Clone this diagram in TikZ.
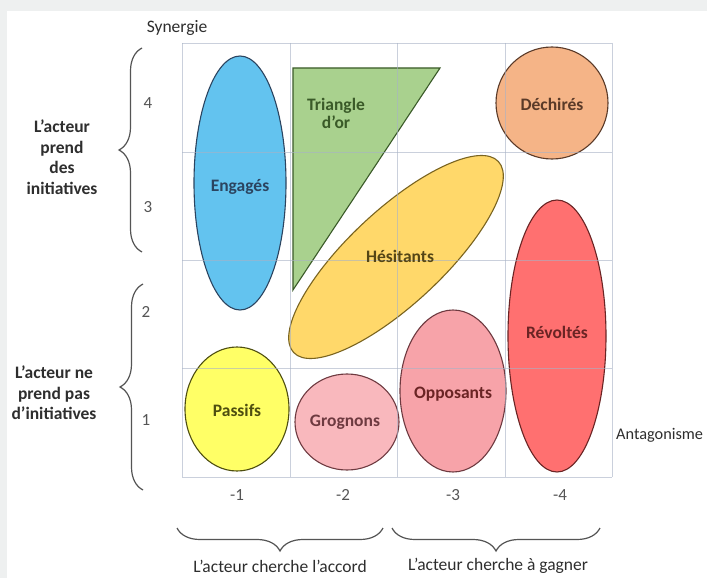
\documentclass[tikz,border=0pt]{standalone}
\usepackage{fontspec}
\setmainfont{Carlito}
\usetikzlibrary{decorations.pathreplacing}
\definecolor{bgc}{HTML}{EEF0F0}
\definecolor{gridc}{HTML}{A8B2C6}
\definecolor{bluef}{HTML}{63C3EF}
\definecolor{blued}{HTML}{2B4460}
\definecolor{greenf}{HTML}{A9D18E}
\definecolor{greend}{HTML}{3A5A28}
\definecolor{orangef}{HTML}{F5B487}
\definecolor{oranged}{HTML}{5A3A28}
\definecolor{yellowf}{HTML}{FFD86A}
\definecolor{yellowd}{HTML}{7A6420}
\definecolor{redf}{HTML}{FF7070}
\definecolor{redd}{HTML}{6A2424}
\definecolor{pinkf}{HTML}{F7A3A9}
\definecolor{pinklf}{HTML}{F9B8BD}
\definecolor{pinkd}{HTML}{6E3A40}
\definecolor{lemonf}{HTML}{FFFF66}
\definecolor{lemond}{HTML}{4E4E10}
\definecolor{txt}{HTML}{2E2E2E}
\definecolor{tick}{HTML}{555555}
\begin{document}
\begin{tikzpicture}[x=1pt,y=-1pt,
  shp/.style={line width=1.1pt},
  lbl/.style={font=\fontsize{17.5}{18}\selectfont\bfseries, align=center, inner sep=0pt},
  side/.style={font=\fontsize{17.5}{20.5}\selectfont\bfseries, text=txt, align=center, inner sep=0pt},
  ticklbl/.style={font=\fontsize{17}{18}\selectfont, text=tick, inner sep=0pt},
  axlbl/.style={font=\fontsize{17.5}{20}\selectfont, text=txt, inner sep=0pt},
  brc/.style={draw=tick, line width=1.2pt, decorate, decoration={brace, amplitude=23pt}},
  gridl/.style={draw=gridc, line width=0.9pt}]
\useasboundingbox (0,0) rectangle (707,578);
\fill[bgc] (0,0) rectangle (707,578);
\fill[white] (7,11) rectangle (707,578);
% shapes
\draw[shp, fill=bluef, draw=blued] (240,183) ellipse [x radius=46pt, y radius=127pt];
\draw[shp, fill=greenf, draw=greend] (293,68) -- (440,68) -- (293,290) -- cycle;
\draw[shp, fill=orangef, draw=oranged] (552,103) circle [radius=56pt];
\draw[shp, fill=yellowf, draw=yellowd, rotate around={43:(396,257)}] (396,257) ellipse [x radius=140pt, y radius=47pt];
\draw[shp, fill=redf, draw=redd] (557,336) ellipse [x radius=49pt, y radius=136pt];
\draw[shp, fill=pinkf, draw=pinkd] (453,391) ellipse [x radius=53pt, y radius=81pt];
\draw[shp, fill=pinklf, draw=pinkd] (347,422) ellipse [x radius=52pt, y radius=48pt];
\draw[shp, fill=lemonf, draw=lemond] (237,409) ellipse [x radius=52pt, y radius=62pt];
% grid
\begin{scope}[draw opacity=0.6]
\foreach \gx in {182,290,397,505,612} \draw[gridl] (\gx,43) -- (\gx,477);
\foreach \gy in {43,152,260,368,477} \draw[gridl] (182,\gy) -- (612,\gy);
\end{scope}
% labels
\node[lbl, text=blued] (engages) at (240,187) {Engagés};
\node[lbl, text=greend] (triangle) at (336,113) {Triangle\\d’or};
\node[lbl, text=oranged] (dechires) at (552,104) {Déchirés};
\node[lbl, text=yellowd!70!black] (hesitants) at (400,256) {Hésitants};
\node[lbl, text=redd] (revoltes) at (557,332) {Révoltés};
\node[lbl, text=redd] (opposants) at (453,394) {Opposants};
\node[lbl, text=pinkd] (grognons) at (345,422) {Grognons};
\node[lbl, text=lemond] (passifs) at (237,410) {Passifs};
% axes texts
\node[axlbl] (synergie) at (177,28) {Synergie};
\node[axlbl, font=\fontsize{16.3}{18}\selectfont, anchor=west] (antag) at (616,435) {Antagonisme};
\node[ticklbl] (y4) at (148,103) {4};
\node[ticklbl] (y3) at (148,207) {3};
\node[ticklbl] (y2) at (146,312) {2};
\node[ticklbl] (y1) at (146,420) {1};
\node[ticklbl] (x1) at (237,495) {-1};
\node[ticklbl] (x2) at (343,495) {-2};
\node[ticklbl] (x3) at (453,495) {-3};
\node[ticklbl] (x4) at (560,495) {-4};
% braces
\coordinate (b1a) at (142,252); \coordinate (b1b) at (142,48);
\coordinate (b2a) at (143,490); \coordinate (b2b) at (143,284);
\coordinate (b3a) at (383,528); \coordinate (b3b) at (177,528);
\coordinate (b4a) at (600,528); \coordinate (b4b) at (392,528);
\draw[brc] (b1a) -- (b1b);
\draw[brc] (b2a) -- (b2b);
\draw[brc] (b3a) -- (b3b);
\draw[brc] (b4a) -- (b4b);
\node[side] (initiatives) at (62,157) {L’acteur\\prend\\des\\initiatives};
\node[side] (noinit) at (54,393) {L’acteur ne\\prend pas\\d’initiatives};
\node[axlbl] (accord) at (280,566) {L’acteur cherche l’accord};
\node[axlbl] (gagner) at (498,566) {L’acteur cherche à gagner};
\end{tikzpicture}
\end{document}
